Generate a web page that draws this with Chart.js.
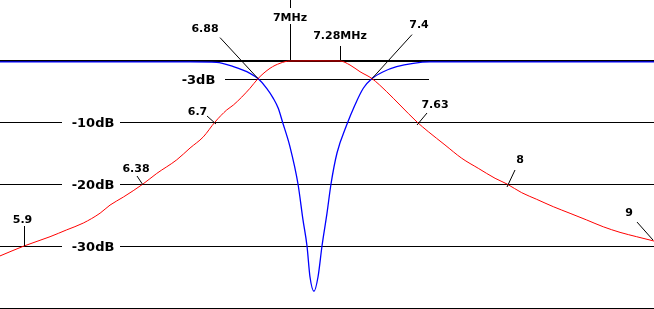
<!DOCTYPE html>
<html><head><meta charset="utf-8">
<script src="https://cdn.jsdelivr.net/npm/chart.js@4/dist/chart.umd.min.js"></script>
<style>html,body{margin:0;padding:0;background:#fff;overflow:hidden}#wrap{width:654px;height:309px;position:relative}</style>
</head><body><div id="wrap"><canvas id="c" width="654" height="309"></canvas></div>
<script>
// ---- data (frequency in MHz, response in dB) ----
const bandpassFreq = [5.8, 5.9, 6.005, 6.072, 6.139, 6.207, 6.247, 6.301, 6.38, 6.441, 6.53, 6.589, 6.648, 6.7, 6.749, 6.777, 6.8465, 6.88, 6.925, 6.9625, 7.0, 7.14, 7.28, 7.3175, 7.355, 7.4, 7.475, 7.543, 7.63, 7.6765, 7.745, 7.814, 7.882, 7.951, 8.0, 8.1, 8.202, 8.315, 8.429, 8.542, 8.655, 8.769, 8.882, 9.0];
const bandpassDb   = [-31.6, -30, -28.5, -27.4, -26.3, -24.7, -23.4, -22.1, -20, -18.3, -16.1, -14.2, -12.4, -10, -8.06, -7.26, -4.56, -3, -1.34, -0.53, -0.16, -0.14, -0.16, -0.81, -1.89, -3, -5.11, -7.26, -10, -11.56, -13.7, -15.85, -17.47, -19.08, -20, -21.4, -22.47, -23.66, -24.73, -25.8, -26.9, -27.8, -28.5, -29.2];
const notchFreq = [5.8, 6.589, 6.707, 6.777, 6.8465, 6.88, 6.9126, 6.9374, 6.956, 6.9719, 7.0, 7.0448, 7.0728, 7.0952, 7.112, 7.1344, 7.1568, 7.1792, 7.2072, 7.2296, 7.2632, 7.305, 7.336, 7.3674, 7.4, 7.4578, 7.526, 7.611, 7.683, 9.0];
const notchDb   = [-0.3, -0.3, -0.37, -1.08, -2.15, -3, -4.56, -6.18, -7.79, -10, -14.0, -20, -25.8, -30, -35, -37.3, -35, -30, -24.7, -20, -15, -10.5, -7.26, -4.56, -3, -1.89, -1.08, -0.53, -0.3, -0.3];
const levelDb     = [0, -10, -20, -30, -40];
const levelLabels = ['', '-10dB', '-20dB', '-30dB', ''];
const halfPowerDb = -3;
const halfPowerLabel = '-3dB';
const halfPowerSpan = [6.74, 7.68];
const markerText = ['5.9', '6.38', '6.7', '6.88', '7MHz', '7.28MHz', '7.4', '7.63', '8', '9'];
const markerFreq = [5.9, 6.38, 6.7, 6.88, 7.0, 7.28, 7.4, 7.63, 8.0, 9.0];
const markerDb   = [-30, -20, -10, -3, 0, 0, -3, -10, -20, -29.2];

// ---- frequency axis of the original is drawn non-uniformly: breakpoints ----
const axisFreq = [5.8, 5.9, 6.38, 6.7, 6.88, 7.0, 7.28, 7.4, 7.63, 8.0, 9.0];
const axisFrac = [0, 24, 143, 215, 258, 290, 340, 372, 417, 507, 654].map(p => p / 654);

// ---- label layout (pixel offsets relative to the marked point) ----
const markerLayout = [
  {dx: -1.5, dy: -23, lx: 0,   ly: -20, ex: 0,  ey: 0},
  {dx: -7,   dy: -12, lx: -6,  ly: -8,  ex: 0,  ey: 1},
  {dx: -17.5,dy: -7,  lx: -8,  ly: -6,  ex: 1,  ey: 2},
  {dx: -53,  dy: -47, lx: -38, ly: -41, ex: 0,  ey: 0},
  {dx: 0,    dy: -39, lx: 0,   ly: -60, ex: 0,  ey: 0, box: true},
  {dx: 0,    dy: -21, lx: 0,   ly: -14, ex: 0,  ey: 0},
  {dx: 47,   dy: -51, lx: 40,  ly: -44, ex: 0,  ey: 0},
  {dx: 18,   dy: -14, lx: 10,  ly: -9,  ex: 0,  ey: 3},
  {dx: 13,   dy: -21, lx: 8,   ly: -14, ex: 0,  ey: 3},
  {dx: -25,  dy: -25, lx: -17, ly: -19, ex: -1, ey: -1}
];

function interp(xs, ys, v) {
  let i = 1;
  while (i < xs.length - 1 && v > xs[i]) i++;
  const t = (v - xs[i - 1]) / (xs[i] - xs[i - 1]);
  return ys[i - 1] + t * (ys[i] - ys[i - 1]);
}

const BaseLinear = Chart.LinearScale || Chart.registry.getScale('linear');
class WarpScale extends BaseLinear {
  getPixelForValue(v) { return v == null ? NaN : this.getPixelForDecimal(interp(axisFreq, axisFrac, v)); }
  getValueForPixel(p) { return interp(axisFrac, axisFreq, this.getDecimalForPixel(p)); }
}
WarpScale.id = 'warp';
WarpScale.defaults = BaseLinear.defaults;
Chart.register(WarpScale);

const FONT_DB = 'bold 13px "DejaVu Sans", Verdana, sans-serif';
const FONT_MK = 'bold 11px "DejaVu Sans", Verdana, sans-serif';

const refLines = {
  id: 'refLines',
  beforeDatasetsDraw(chart) {
    const {ctx, chartArea: a, scales: {x, y}} = chart;
    ctx.save();
    ctx.fillStyle = '#000';
    levelDb.forEach(db => {
      const py = Math.round(y.getPixelForValue(db));
      ctx.fillRect(a.left, py, a.right - a.left, db === 0 ? 2 : 1);
    });
    const hy = Math.round(y.getPixelForValue(halfPowerDb));
    const hx0 = Math.round(x.getPixelForValue(halfPowerSpan[0]));
    const hx1 = Math.round(x.getPixelForValue(halfPowerSpan[1]));
    ctx.fillRect(hx0, hy, hx1 - hx0, 1);
    ctx.font = FONT_DB;
    ctx.textAlign = 'center';
    ctx.textBaseline = 'alphabetic';
    levelDb.forEach((db, i) => {
      if (!levelLabels[i]) return;
      const py = Math.round(y.getPixelForValue(db));
      ctx.fillStyle = '#fff';
      ctx.fillRect(a.left + 62, py - 6, 58, 13);
      ctx.fillStyle = '#000';
      ctx.fillText(levelLabels[i], a.left + 93, py + 5);
    });
    ctx.fillText(halfPowerLabel, a.left + 198.5, hy + 5);
    ctx.restore();
  }
};

const markers = {
  id: 'markers',
  afterDatasetsDraw(chart) {
    const {ctx, scales: {x, y}} = chart;
    ctx.save();
    ctx.strokeStyle = '#000';
    ctx.lineWidth = 1;
    ctx.font = FONT_MK;
    ctx.textAlign = 'center';
    ctx.textBaseline = 'alphabetic';
    markerText.forEach((t, i) => {
      const L = markerLayout[i];
      const ax = x.getPixelForValue(markerFreq[i]);
      const ay = y.getPixelForValue(markerDb[i]);
      const vertical = L.lx === 0 && L.ex === 0;
      const off = vertical ? 0.5 : 0;
      ctx.beginPath();
      ctx.moveTo(Math.round(ax + L.lx) + off, ay + L.ly);
      ctx.lineTo(Math.round(ax + L.ex) + off, ay + L.ey);
      ctx.stroke();
      const tx = ax + L.dx, ty = ay + L.dy;
      if (L.box) {
        const w = ctx.measureText(t).width;
        ctx.fillStyle = '#fff';
        ctx.fillRect(tx - w / 2 - 2, ty - 13, w + 4, 16);
      }
      ctx.fillStyle = '#000';
      ctx.fillText(t, tx, ty);
    });
    ctx.restore();
  }
};

new Chart(document.getElementById('c').getContext('2d'), {
  type: 'line',
  data: {
    datasets: [
      {
        label: 'band-pass',
        data: bandpassFreq.map((f, i) => ({x: f, y: bandpassDb[i]})),
        borderColor: '#ff0000', borderWidth: 1, pointRadius: 0,
        cubicInterpolationMode: 'monotone', fill: false
      },
      {
        label: 'notch',
        data: notchFreq.map((f, i) => ({x: f, y: notchDb[i]})),
        borderColor: '#0000ff', borderWidth: 1.3, pointRadius: 0,
        cubicInterpolationMode: 'monotone', fill: false
      }
    ]
  },
  options: {
    responsive: false, animation: false, devicePixelRatio: 1,
    layout: {padding: 0},
    events: [],
    plugins: {legend: {display: false}, tooltip: {enabled: false}, title: {display: false}},
    scales: {
      x: {type: 'warp', min: 5.8, max: 9.0, display: false},
      y: {type: 'linear', min: -40.16, max: 9.677, display: false}
    }
  },
  plugins: [refLines, markers]
});
</script>
</body></html>
